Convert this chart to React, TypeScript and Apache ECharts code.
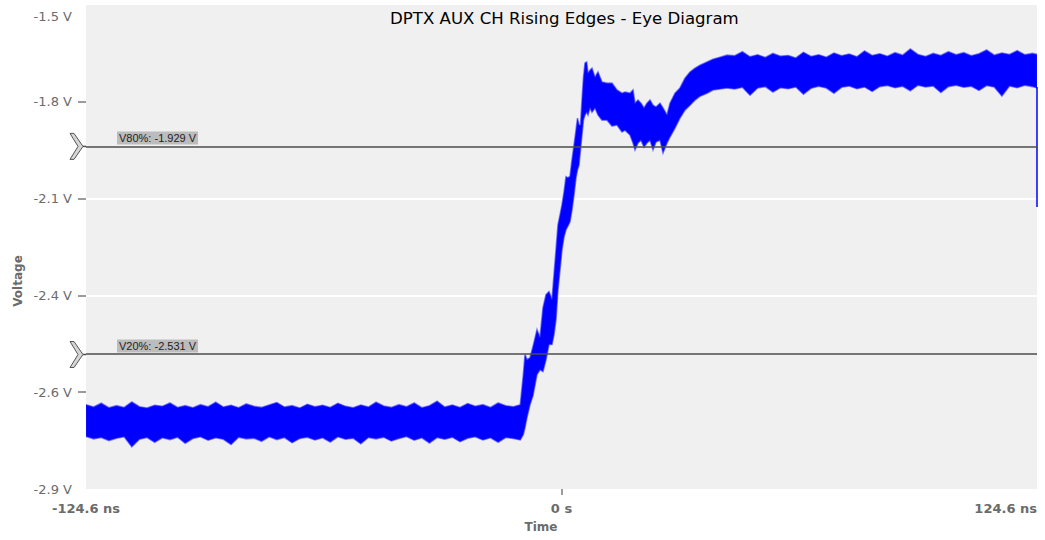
import React, { useEffect, useRef } from "react";
import * as echarts from "echarts";

const TITLE = "DPTX AUX CH Rising Edges - Eye Diagram";
const X_NAME = "Time";
const Y_NAME = "Voltage";
const X_MIN_NS = -124.6;
const X_MAX_NS = 124.6;
const X_STEP_NS = 124.6;
const Y_MIN_V = -2.92;
const Y_MAX_V = -1.52;
const Y_STEP_V = 0.28;
const Y_TICK_MARKS = [-2.64, -2.36, -2.08, -1.8];
const X_TICK_MARKS = [0];

const V80_LEVEL = -1.929;
const V20_LEVEL = -2.531;
const V80_LABEL = "V80%: -1.929 V";
const V20_LABEL = "V20%: -2.531 V";

// Low plateau (before the edge): time, upper and lower envelope of the trace band
const LOW_NS = [
  -124.6, -122.6, -120.6, -118.6, -116.6, -114.6, -112.6, -110.6, -108.6, -106.6,
  -104.6, -102.6, -100.6, -98.6, -96.6, -94.6, -92.6, -90.6, -88.6, -86.6,
  -84.6, -82.6, -80.6, -78.6, -76.6, -74.6, -72.6, -70.6, -68.6, -66.6,
  -64.6, -62.6, -60.6, -58.6, -56.6, -54.6, -52.6, -50.6, -48.6, -46.6,
  -44.6, -42.6, -40.6, -38.6, -36.6, -34.6, -32.6, -30.6, -28.6, -26.6,
  -24.6, -22.6, -20.6, -18.6, -16.6, -14.6, -12.6, -10.8,
];
const LOW_HI_V = [
  -2.676, -2.683, -2.672, -2.685, -2.679, -2.684, -2.668, -2.682, -2.686, -2.678,
  -2.681, -2.671, -2.684, -2.679, -2.685, -2.676, -2.682, -2.669, -2.683, -2.678,
  -2.685, -2.674, -2.681, -2.684, -2.677, -2.67, -2.683, -2.679, -2.686, -2.675,
  -2.682, -2.678, -2.684, -2.672, -2.681, -2.685, -2.677, -2.683, -2.669, -2.68,
  -2.684, -2.676, -2.682, -2.671, -2.685, -2.679, -2.666, -2.683, -2.677, -2.684,
  -2.673, -2.681, -2.676, -2.684, -2.671, -2.679, -2.682, -2.676,
];
const LOW_LO_V = [
  -2.768, -2.775, -2.771, -2.78, -2.773, -2.769, -2.798, -2.776, -2.771, -2.785,
  -2.772, -2.777, -2.77, -2.788, -2.774, -2.769, -2.779, -2.772, -2.776, -2.791,
  -2.77, -2.775, -2.773, -2.782, -2.769, -2.777, -2.771, -2.786, -2.774, -2.77,
  -2.778, -2.772, -2.784, -2.769, -2.776, -2.773, -2.789, -2.771, -2.775, -2.77,
  -2.781, -2.774, -2.768, -2.779, -2.772, -2.787, -2.771, -2.776, -2.77, -2.783,
  -2.773, -2.769, -2.778, -2.772, -2.785, -2.771, -2.774, -2.778,
];

// Rising edge and ringing
const EDGE_NS = [
  -10.0, -9.56, -9.04, -8.25, -7.47, -6.42, -5.63, -4.85, -4.06, -3.28,
  -2.49, -1.97, -1.44, -0.92, -0.39, 0.13, 0.66, 1.18, 1.7, 2.23,
  2.75, 3.28, 3.8, 4.19, 4.59, 4.98, 5.37, 5.76, 6.16, 6.6,
  6.94, 7.47, 7.99, 8.78, 9.56, 10.61, 11.92, 13.23, 14.54, 15.85,
  16.64, 17.95, 18.74, 19.26, 20.05, 20.83, 21.62, 22.4, 23.19, 23.98,
  24.76, 25.81, 26.6, 27.65, 28.43, 29.74, 31.05, 32.36, 33.67, 34.98,
  36.29, 38.13, 39.7, 41.53, 43.37,
];
const EDGE_HI_V = [
  -2.589, -2.531, -2.546, -2.54, -2.508, -2.459, -2.482, -2.396, -2.358, -2.349,
  -2.372, -2.3, -2.228, -2.156, -2.127, -2.098, -2.061, -2.017, -2.02, -2.015,
  -1.968, -1.925, -1.882, -1.847, -1.867, -1.867, -1.795, -1.729, -1.688, -1.685,
  -1.717, -1.709, -1.703, -1.729, -1.714, -1.743, -1.746, -1.746, -1.766, -1.775,
  -1.772, -1.775, -1.766, -1.804, -1.795, -1.804, -1.818, -1.804, -1.795, -1.81,
  -1.815, -1.804, -1.818, -1.838, -1.804, -1.775, -1.76, -1.732, -1.714, -1.703,
  -1.694, -1.685, -1.677, -1.671, -1.665,
];
const EDGE_LO_V = [
  -2.762, -2.742, -2.713, -2.676, -2.65, -2.589, -2.575, -2.58, -2.546, -2.502,
  -2.502, -2.474, -2.43, -2.344, -2.286, -2.228, -2.191, -2.17, -2.159, -2.147,
  -2.113, -2.069, -2.02, -1.997, -1.983, -1.939, -1.896, -1.853, -1.838, -1.83,
  -1.838, -1.818, -1.83, -1.818, -1.838, -1.853, -1.853, -1.87, -1.867, -1.887,
  -1.882, -1.896, -1.919, -1.939, -1.919, -1.911, -1.931, -1.919, -1.911, -1.939,
  -1.916, -1.911, -1.948, -1.919, -1.902, -1.876, -1.847, -1.824, -1.81, -1.795,
  -1.784, -1.775, -1.766, -1.763, -1.76,
];

// High plateau (after the edge)
const HIGH_NS = [
  45.4, 47.4, 49.4, 51.4, 53.4, 55.4, 57.4, 59.4, 61.4, 63.4,
  65.4, 67.4, 69.4, 71.4, 73.4, 75.4, 77.4, 79.4, 81.4, 83.4,
  85.4, 87.4, 89.4, 91.4, 93.4, 95.4, 97.4, 99.4, 101.4, 103.4,
  105.4, 107.4, 109.4, 111.4, 113.4, 115.4, 117.4, 119.4, 121.4, 123.4,
  124.6,
];
const HIGH_HI_V = [
  -1.667, -1.655, -1.67, -1.664, -1.672, -1.66, -1.668, -1.666, -1.673, -1.657,
  -1.669, -1.664, -1.671, -1.659, -1.667, -1.662, -1.67, -1.653, -1.666, -1.661,
  -1.668, -1.658, -1.665, -1.647, -1.663, -1.669, -1.66, -1.666, -1.655, -1.664,
  -1.658, -1.667, -1.661, -1.65, -1.665, -1.659, -1.663, -1.652, -1.664, -1.66,
  -1.663,
];
const HIGH_LO_V = [
  -1.763, -1.758, -1.781, -1.76, -1.756, -1.772, -1.759, -1.762, -1.757, -1.778,
  -1.761, -1.755, -1.76, -1.775, -1.758, -1.754, -1.762, -1.757, -1.77, -1.756,
  -1.753, -1.759, -1.755, -1.768, -1.752, -1.757, -1.754, -1.773, -1.756, -1.752,
  -1.758, -1.755, -1.767, -1.753, -1.757, -1.783, -1.754, -1.759, -1.752, -1.756,
  -1.76,
];

// Trace wrap-around at the right edge
const WRAP_NS = [124.6, 124.6];
const WRAP_V = [-1.757, -2.104];

const TIME_NS = [...LOW_NS, ...EDGE_NS, ...HIGH_NS];
const UPPER_V = [...LOW_HI_V, ...EDGE_HI_V, ...HIGH_HI_V];
const LOWER_V = [...LOW_LO_V, ...EDGE_LO_V, ...HIGH_LO_V];

const GRAY_TEXT = "#6b6b6b";
const FONT = "DejaVu Sans";

export default function App() {
  const ref = useRef<HTMLDivElement>(null);

  useEffect(() => {
    if (!ref.current) return;
    const chart = echarts.init(ref.current, undefined, { renderer: "svg" });
    const n = Math.min(TIME_NS.length, UPPER_V.length, LOWER_V.length);

    chart.setOption({
      animation: false,
      backgroundColor: "#ffffff",
      title: {
        text: TITLE,
        left: 390,
        top: 10,
        padding: 0,
        textStyle: { fontFamily: FONT, fontSize: 16.6, fontWeight: "normal", color: "#000" },
      },
      grid: {
        left: 86,
        right: 8,
        top: 5,
        bottom: 51,
        show: true,
        backgroundColor: "#f0f0f0",
        borderWidth: 0,
        outerBoundsMode: "none",
      },
      xAxis: {
        type: "value",
        min: X_MIN_NS,
        max: X_MAX_NS,
        interval: X_STEP_NS,
        axisLine: { show: false, onZero: false },
        axisTick: { show: true, customValues: X_TICK_MARKS, length: 6, lineStyle: { color: "#7a7a7a", width: 1.5 } },
        splitLine: { show: true, showMinLine: false, showMaxLine: false, lineStyle: { color: "#ffffff", width: 2 } },
        axisLabel: {
          margin: 13,
          color: GRAY_TEXT,
          fontFamily: FONT,
          fontSize: 13,
          fontWeight: "bold",
          alignMaxLabel: "right",
          showMinLabel: true,
          showMaxLabel: true,
          formatter: (v: number) => (Math.abs(v) < 1e-6 ? "0 s" : `${v.toFixed(1)} ns`),
        },
      },
      yAxis: {
        type: "value",
        min: Y_MIN_V,
        max: Y_MAX_V,
        interval: Y_STEP_V,
        axisLine: { show: false, onZero: false },
        axisTick: { show: true, customValues: Y_TICK_MARKS, length: 8, lineStyle: { color: "#7a7a7a", width: 1.5 } },
        splitLine: { show: true, showMinLine: false, showMaxLine: false, lineStyle: { color: "#ffffff", width: 2 } },
        axisLabel: {
          margin: 14,
          color: GRAY_TEXT,
          fontFamily: FONT,
          fontSize: 13,
          showMinLabel: true,
          showMaxLabel: true,
          formatter: (v: number) =>
            Math.abs(v - Y_MAX_V) < 1e-6 ? `{top|${v.toFixed(1)} V}` : `${v.toFixed(1)} V`,
          rich: {
            top: { padding: [22, 0, 0, 0], color: GRAY_TEXT, fontFamily: FONT, fontSize: 13 },
          },
        },
      },
      series: [
        {
          type: "custom",
          clip: true,
          silent: true,
          data: [[0, -2.2]],
          encode: { x: 0, y: 1 },
          renderItem: (params: any, api: any) => {
            if (params.dataIndex !== 0) return null;
            const top: number[][] = [];
            const bottom: number[][] = [];
            for (let i = 0; i < n; i++) {
              top.push(api.coord([TIME_NS[i], UPPER_V[i]]));
              bottom.push(api.coord([TIME_NS[i], LOWER_V[i]]));
            }
            return {
              type: "polygon",
              shape: { points: top.concat(bottom.reverse()) },
              style: { fill: "#0000ff", stroke: "rgba(30,30,255,0.55)", lineWidth: 1.6, lineJoin: "miter" },
            };
          },
          z: 2,
        },
        {
          type: "line",
          data: WRAP_NS.map((t, i) => [t, WRAP_V[i]]),
          showSymbol: false,
          clip: false,
          lineStyle: { color: "#0000ff", width: 1.5 },
          z: 3,
          markLine: {
            silent: true,
            symbol: "none",
            label: { show: false },
            lineStyle: { color: "#4d4d4d", width: 1.5, type: "solid" },
            data: [{ yAxis: V80_LEVEL }, { yAxis: V20_LEVEL }],
          },
        },
      ],
    });

    const left = chart.convertToPixel({ xAxisIndex: 0 }, X_MIN_NS) as number;
    const levels: [number, string][] = [
      [V80_LEVEL, V80_LABEL],
      [V20_LEVEL, V20_LABEL],
    ];
    const graphics: any[] = [];
    levels.forEach(([lv, txt]) => {
      const y = chart.convertToPixel({ yAxisIndex: 0 }, lv) as number;
      const tipX = left - 3;
      graphics.push({
        type: "line",
        shape: { x1: tipX, y1: y, x2: left, y2: y },
        style: { stroke: "#4d4d4d", lineWidth: 1.5 },
        z: 10,
      });
      graphics.push({
        type: "polygon",
        shape: {
          points: [
            [tipX - 13, y - 13],
            [tipX - 9, y - 13],
            [tipX, y],
            [tipX - 9, y + 13],
            [tipX - 13, y + 13],
            [tipX - 5, y],
          ],
        },
        style: { fill: "#d6d6d6", stroke: "#555555", lineWidth: 1 },
        z: 10,
      });
      graphics.push({
        type: "text",
        x: left + 31,
        y: y - 2,
        style: {
          text: txt,
          font: "11px 'Liberation Sans', Arial, sans-serif",
          fill: "#222222",
          backgroundColor: "#bcbcbc",
          padding: [1, 2, 1, 2],
          verticalAlign: "bottom",
          align: "left",
        },
        z: 10,
      });
    });
    graphics.push({
      type: "text",
      x: 18,
      y: 281,
      rotation: Math.PI / 2,
      style: {
        text: Y_NAME,
        font: `bold 12px '${FONT}'`,
        fill: GRAY_TEXT,
        align: "center",
        verticalAlign: "middle",
      },
    });
    graphics.push({
      type: "text",
      x: 541,
      y: 527,
      style: {
        text: X_NAME,
        font: `bold 12px '${FONT}'`,
        fill: GRAY_TEXT,
        align: "center",
        verticalAlign: "middle",
      },
    });
    chart.setOption({ graphic: graphics });

    return () => chart.dispose();
  }, []);

  return (
    <div
      ref={ref}
      style={{ position: "fixed", left: 0, top: 0, width: 1045, height: 540 }}
    />
  );
}
